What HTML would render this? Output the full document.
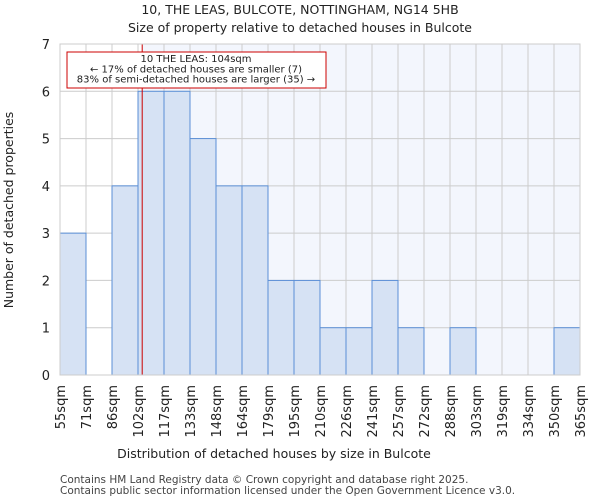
<!DOCTYPE html>
<html><head><meta charset="utf-8"><style>
body{margin:0;background:#fff;font-family:"DejaVu Sans","Liberation Sans",sans-serif;}
svg text{font-family:"DejaVu Sans","Liberation Sans",sans-serif;}
</style></head><body>
<svg id="c" width="600" height="500" xmlns="http://www.w3.org/2000/svg">
<text x="300" y="14" text-anchor="middle" font-size="12.5" fill="#222">10, THE LEAS, BULCOTE, NOTTINGHAM, NG14 5HB</text>
<text x="300" y="32" text-anchor="middle" font-size="12.5" fill="#222">Size of property relative to detached houses in Bulcote</text>
<g id="plot"></g>
<text x="274" y="458" text-anchor="middle" font-size="12.5" fill="#222">Distribution of detached houses by size in Bulcote</text>
<text transform="translate(13,210) rotate(-90)" text-anchor="middle" font-size="12.5" fill="#222">Number of detached properties</text>
<text x="60" y="483" font-size="10.5" fill="#444">Contains HM Land Registry data © Crown copyright and database right 2025.</text>
<text x="60" y="494" font-size="10.5" fill="#444">Contains public sector information licensed under the Open Government Licence v3.0.</text>
</svg>
<script>
const binLabels=["55sqm","71sqm","86sqm","102sqm","117sqm","133sqm","148sqm","164sqm","179sqm","195sqm","210sqm","226sqm","241sqm","257sqm","272sqm","288sqm","303sqm","319sqm","334sqm","350sqm","365sqm"];
const binEdges=[55,70.5,86,101.5,117,132.5,148,163.5,179,194.5,210,225.5,241,256.5,272,287.5,303,318.5,334,349.5,365];
const counts=[3,0,4,6,6,5,4,4,2,2,1,1,2,1,0,1,0,0,0,1];
const yTicks=[0,1,2,3,4,5,6,7];
const subjectSize=104;
const L=60,R=580,T=44,B=375,yMax=7;
const ns="http://www.w3.org/2000/svg";
const g=document.getElementById('plot');
const xs=v=>L+(v-binEdges[0])/(binEdges[binEdges.length-1]-binEdges[0])*(R-L);
const ys=v=>B-v/yMax*(B-T);
function el(t,a,p){const e=document.createElementNS(ns,t);for(const k in a)e.setAttribute(k,a[k]);(p||g).appendChild(e);return e;}
const sx=xs(subjectSize);
let bg=el('rect',{x:sx,y:T,width:R-sx,height:B-T,fill:'#f3f6fd'});


for(let i=0;i<binEdges.length;i++){let l=el('line',{x1:xs(binEdges[i]),x2:xs(binEdges[i]),y1:T,y2:B,stroke:'#ccc','stroke-width':1});

}
yTicks.forEach(v=>{let l=el('line',{x1:L,x2:R,y1:ys(v),y2:ys(v),stroke:'#ccc','stroke-width':1});


let t=el('text',{x:L-10,y:ys(v)+5,'text-anchor':'end','font-size':13,fill:'#222'});t.textContent=v;

});
counts.forEach((c,i)=>{if(c<=0)return;const x0=xs(binEdges[i]),x1=xs(binEdges[i+1]);
let r=el('rect',{x:x0,y:ys(c),width:x1-x0,height:ys(0)-ys(c),fill:'#d6e2f4',stroke:'#5b8fd6','stroke-width':1});

});
binLabels.forEach((s,i)=>{const x=xs(binEdges[i]);let t=el('text',{transform:`translate(${x+5},${B+10}) rotate(-90)`,'text-anchor':'end','font-size':13,fill:'#222'});t.textContent=s;

});
let ln=el('line',{x1:sx,x2:sx,y1:T,y2:B,stroke:'#cc0000','stroke-width':1});


let box=el('rect',{x:67,y:52,width:259,height:36,fill:'#fff',stroke:'#cc0000','stroke-width':1});


["10 THE LEAS: 104sqm","← 17% of detached houses are smaller (7)","83% of semi-detached houses are larger (35) →"].forEach((s,i)=>{let t=el('text',{x:196,y:62+i*10.3,'text-anchor':'middle','font-size':10,fill:'#222'});t.textContent=s;

});
let ax=el('rect',{x:L,y:T,width:R-L,height:B-T,fill:'none',stroke:'#ccc','stroke-width':1});


</script>
</body></html>
